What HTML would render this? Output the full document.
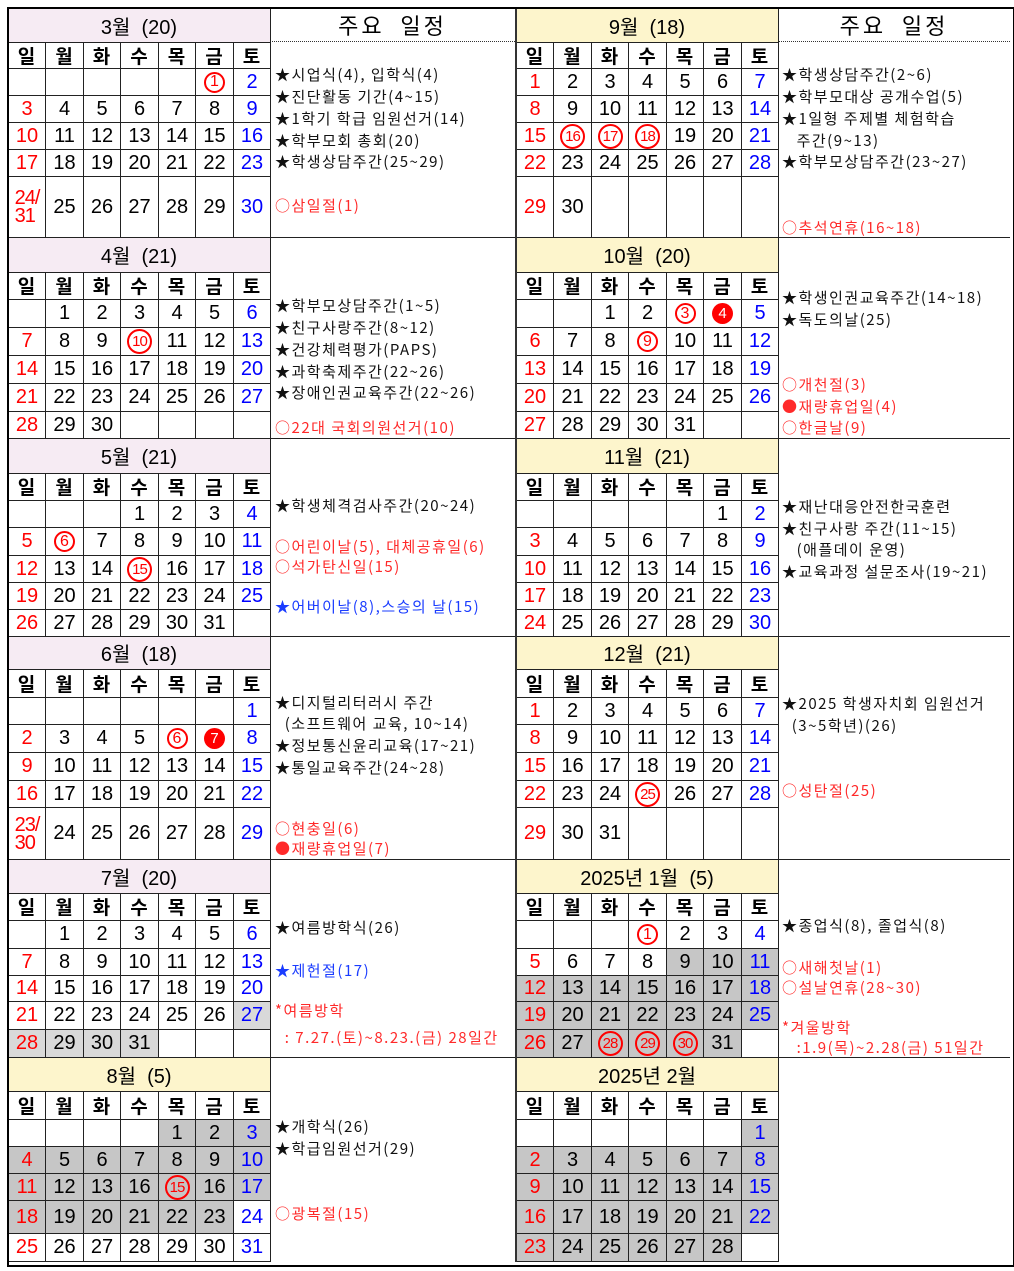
<!DOCTYPE html>
<html><head><meta charset="utf-8">
<style>
body{margin:0;background:#fff;}
#root{position:relative;width:1014px;height:1271px;overflow:hidden;font-family:"Liberation Sans","Noto Sans CJK KR",sans-serif;}
.c{position:absolute;box-sizing:border-box;display:flex;align-items:center;justify-content:center;}
.ln{position:absolute;background:#222;}
.note{position:absolute;font-family:"Noto Sans CJK KR","Liberation Sans",sans-serif;font-size:15px;letter-spacing:1.5px;white-space:pre;line-height:18px;}
.circ{display:inline-flex;align-items:center;justify-content:center;width:21px;height:21px;border:2px solid #f00;border-radius:50%;box-sizing:border-box;color:#f00;font-size:16px;}
.fill{display:inline-flex;align-items:center;justify-content:center;width:21px;height:21px;background:#f00;border-radius:50%;color:#fff;font-size:15px;}
</style></head>
<body>
<div id="root"></div>
<script>
// ---- data ----
const secTops=[8,237,438,636,859,1057];
const headH=[34,35,35,33,34,34];
const dnH=[26,27,27,28,27,28];
const weekH=[[27,27,27,27,61],[28,28,28,28,27],[27,28,27,27,27],[27,28,28,27,52],[28,27,26,28,28],[27,27,27,33,28]];
const leftTitles=['3월 (20)','4월 (21)','5월 (21)','6월 (18)','7월 (20)','8월 (5)'];
const rightTitles=['9월 (18)','10월 (20)','11월 (21)','12월 (21)','2025년 1월 (5)','2025년 2월'];
const leftStart=[5,1,3,6,1,4];
const rightStart=[0,2,5,0,3,6];
const leftDays=[31,30,31,30,31,31];
const rightDays=[30,31,30,31,31,28];
const leftHead=['pink','pink','pink','pink','pink','yellow'];
const leftCircle=[[1],[10],[6,15],[6],[],[15]];
const rightCircle=[[16,17,18],[3,9],[],[25],[1,28,29,30],[]];
const leftFilled=[[],[],[],[7],[],[]];
const rightFilled=[[],[4],[],[],[],[]];
const leftGray=[[],[],[],[],[27,28,29,30,31],[1,2,3,4,5,6,7,8,9,10,11,12,13,14,15,16,17,18,19,20,21,22,23]];
const rightGray=[[],[],[],[],[9,10,11,12,13,14,15,16,17,18,19,20,21,22,23,24,25,26,27,28,29,30,31],[1,2,3,4,5,6,7,8,9,10,11,12,13,14,15,16,17,18,19,20,21,22,23,24,25,26,27,28]];
const leftLabelFix=[{},{},{},{},{},{14:'16'}];
const dayNames=['일','월','화','수','목','금','토'];
const leftX=[8,45,83,120,158,195,233,270];
const rightX=[516,553,591,628,666,703,741,778];
const R='#ff2a2a',B='#1a3cff',K='#111';
const notes=[
 [275,74,'★시업식(4), 입학식(4)',K],[275,96,'★진단활동 기간(4~15)',K],[275,118,'★1학기 학급 임원선거(14)',K],[275,140,'★학부모회 총회(20)',K],[275,161,'★학생상담주간(25~29)',K],[275,205,'○삼일절(1)',R],
 [782,74,'★학생상담주간(2~6)',K],[782,96,'★학부모대상 공개수업(5)',K],[782,118,'★1일형 주제별 체험학습',K],[782,140,'   주간(9~13)',K],[782,161,'★학부모상담주간(23~27)',K],[782,227,'○추석연휴(16~18)',R],
 [275,305,'★학부모상담주간(1~5)',K],[275,327,'★친구사랑주간(8~12)',K],[275,349,'★건강체력평가(PAPS)',K],[275,371,'★과학축제주간(22~26)',K],[275,392,'★장애인권교육주간(22~26)',K],[275,427,'○22대 국회의원선거(10)',R],
 [782,297,'★학생인권교육주간(14~18)',K],[782,319,'★독도의날(25)',K],[782,384,'○개천절(3)',R],[782,406,'●재량휴업일(4)',R],[782,427,'○한글날(9)',R],
 [275,505,'★학생체격검사주간(20~24)',K],[275,546,'○어린이날(5), 대체공휴일(6)',R],[275,566,'○석가탄신일(15)',R],[275,606,'★어버이날(8),스승의 날(15)',B],
 [782,506,'★재난대응안전한국훈련',K],[782,528,'★친구사랑 주간(11~15)',K],[782,549,'   (애플데이 운영)',K],[782,571,'★교육과정 설문조사(19~21)',K],
 [275,702,'★디지털리터러시 주간',K],[275,723,'  (소프트웨어 교육, 10~14)',K],[275,745,'★정보통신윤리교육(17~21)',K],[275,767,'★통일교육주간(24~28)',K],[275,828,'○현충일(6)',R],[275,848,'●재량휴업일(7)',R],
 [782,703,'★2025 학생자치회 임원선거',K],[782,725,'  (3~5학년)(26)',K],[782,790,'○성탄절(25)',R],
 [275,927,'★여름방학식(26)',K],[275,970,'★제헌절(17)',B],[275,1010,'*여름방학',R],[275,1037,'  : 7.27.(토)~8.23.(금) 28일간',R],
 [782,925,'★종업식(8), 졸업식(8)',K],[782,967,'○새해첫날(1)',R],[782,987,'○설날연휴(28~30)',R],[782,1027,'*겨울방학',R],[782,1047,'   :1.9(목)~2.28(금) 51일간',R],
 [275,1126,'★개학식(26)',K],[275,1148,'★학급임원선거(29)',K],[275,1213,'○광복절(15)',R]
];
// ---- render ----
const root=document.getElementById('root');
function box(x,y,w,h,cls){const d=document.createElement('div');d.className=cls||'c';d.style.left=x+'px';d.style.top=y+'px';d.style.width=w+'px';d.style.height=h+'px';root.appendChild(d);return d;}
function line(x,y,w,h,col){const d=box(x,y,w,h,'ln');if(col)d.style.background=col;return d;}

function month(s,X,title,start,days,headBg,circ,filled,gray,fix,side){
  const top=secTops[s];
  const hd=box(X[0],top,X[7]-X[0],headH[s]);
  
  
  hd.style.background=headBg==='pink'?'#f6ebf3':'#fdf5cc';
  hd.style.fontSize='20px';hd.style.whiteSpace='pre';hd.textContent=title.replace(' (','  (');
  let y=top+headH[s];
  line(X[0],y,X[7]-X[0],1);
  for(let i=0;i<7;i++){
    const d=box(X[i],y,X[i+1]-X[i],dnH[s]);
    
    
    d.style.fontSize='19px';d.style.fontWeight='bold';d.textContent=dayNames[i];
  }
  y+=dnH[s];
  const rowY=[y];for(let r=0;r<5;r++){rowY.push(rowY[r]+weekH[s][r]);}
  for(let r=0;r<=5;r++)line(X[0],rowY[r],X[7]-X[0],1);
  const labels={};
  for(let d=1;d<=days;d++){
    const idx=start+d-1;let row=Math.floor(idx/7),col=idx%7;
    if(row>=5){labels['4_'+col]=(d-7)+'/'+d;continue;}
    const cell=box(X[col]+1,rowY[row]+1,X[col+1]-X[col]-1,rowY[row+1]-rowY[row]-1);
    
    
    if(gray.includes(d))cell.style.background=(s===4&&side==='left')?'#d9d9d9':'#c6c6c6';
    cell.style.fontSize='20px';
    cell.style.color=col===0?'#f00':col===6?'#0000ff':'#000';
    const lab=fix[d]||String(d);
    if(circ.includes(d)){const sp=document.createElement('span');sp.className='circ';if(d>9){sp.style.fontSize='15px';sp.style.letterSpacing='-1px';sp.style.width='25px';sp.style.height='25px';}sp.textContent=lab;cell.appendChild(sp);}
    else if(filled.includes(d)){const sp=document.createElement('span');sp.className='fill';sp.textContent=lab;cell.appendChild(sp);}
    else cell.textContent=lab;
    cell.id=side+s+'_'+row+'_'+col;
  }
  if(labels['4_0']){
    const c=document.getElementById(side+s+'_4_0');
    c.innerHTML='';c.style.flexDirection='column';c.style.lineHeight='18px';c.style.fontSize='20px';c.style.letterSpacing='-1px';
    const p=labels['4_0'].split('/');c.innerHTML=p[0]+'/<br>'+p[1];
  }
  for(let i=1;i<7;i++)line(X[i],top+headH[s],1,rowY[5]-top-headH[s]);
}
for(let s=0;s<6;s++){
  month(s,leftX,leftTitles[s],leftStart[s],leftDays[s],leftHead[s],leftCircle[s],leftFilled[s],leftGray[s],leftLabelFix[s],'left');
  month(s,rightX,rightTitles[s],rightStart[s],rightDays[s],'yellow',rightCircle[s],rightFilled[s],rightGray[s],{},'right');
}
[[270,515],[778,1010]].forEach(p=>{
  const h=box(p[0],8,p[1]-p[0],34);
  
  
  h.style.fontSize='22px';h.style.letterSpacing='3px';h.style.whiteSpace='pre';h.style.fontFamily='"Noto Sans CJK KR",sans-serif';h.textContent='주요  일정';
  const dl=box(p[0],41,p[1]-p[0],0,'ln');dl.style.background='none';dl.style.borderTop='1px dotted #333';
});
notes.forEach(n=>{
  const d=document.createElement('div');d.className='note';
  
  
  d.style.left=n[0]+'px';d.style.top=(n[1]-8)+'px';d.style.color=n[3];d.textContent=n[2];root.appendChild(d);
});
for(let s=1;s<6;s++){line(8,secTops[s],1002,1);}
line(270,8,1,1254);line(515,8,2,1254,'#333');line(778,8,1,1254);
const ob=box(7,7,1004,1256,'ln');ob.style.background='none';ob.style.border='2px solid #000';
</script>
</body></html>
